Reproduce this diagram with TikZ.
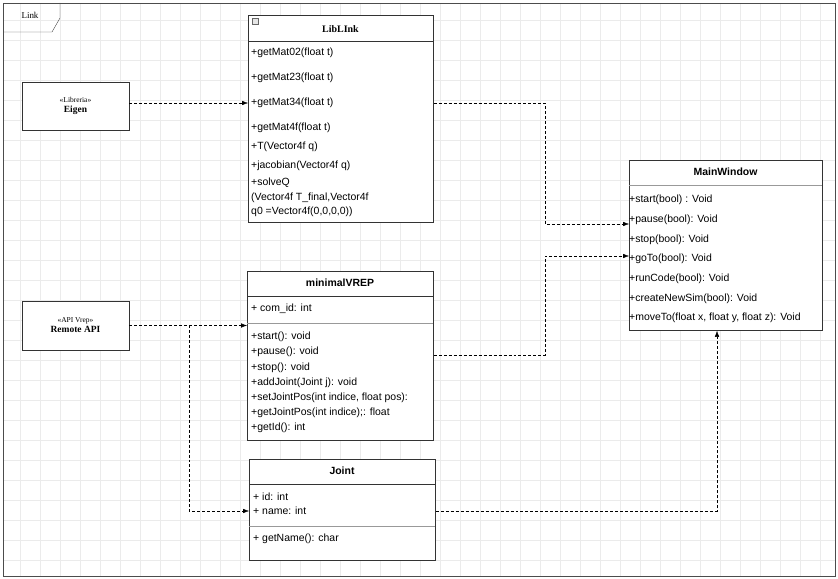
\documentclass[tikz,border=0pt]{standalone}
\usepackage{fontspec}
\setmainfont{Liberation Sans}
\newfontfamily\seriffont{Liberation Serif}
\usetikzlibrary{positioning,arrows.meta,backgrounds,calc}
\tikzset{
  cls/.style={rectangle, draw, thick, black!80, fill=white, anchor=north west, inner sep=0pt},
  lib/.style={rectangle, draw, thick, black!80, fill=white, align=center, font=\seriffont\fontsize{9.5}{10}\selectfont, text=black},
  row/.style={anchor=west, inner sep=1pt, font=\fontsize{10.5}{14.5}\selectfont},
  title/.style={font=\bfseries\fontsize{10.5}{12}\selectfont},
  dep/.style={draw, densely dashed, -{Latex[length=6pt]}}
}
\begin{document}
\begin{tikzpicture}[x=1bp, y=-1bp]
   \useasboundingbox (0,0) rectangle (838,579);
   % Grid %%%%%%%%%%%%%%%%%%%%%%%%%%%%%%%%%%%%%%%%%%%%%%%%%%%%%%%%%%
   \begin{scope}[on background layer]
      \draw[black!8, step=20bp] (3,3) grid (835,576);
   \end{scope}
   \draw[thick, black!70] (3,3) rectangle (835,576);
   \draw[black!70] (3,32) -- (52,32) -- (60,18) -- (60,3);
   \node[font=\seriffont\fontsize{9}{10}\selectfont] (frame) at (30,15) {Link};

   % Libraries %%%%%%%%%%%%%%%%%%%%%%%%%%%%%%%%%%%%%%%%%%%%%%%%%%%%%
   \node[lib, minimum width=107bp, minimum height=48bp] (eigen) at (75.5,106) {%
      {\fontsize{7.5}{9}\selectfont «Libreria»}\\\textbf{Eigen}};
   \node[lib, minimum width=107bp, minimum height=49bp] (remote) at (75.5,325.5) {%
      {\fontsize{7.5}{9}\selectfont «API Vrep»}\\\textbf{Remote API}};

   % LibLInk %%%%%%%%%%%%%%%%%%%%%%%%%%%%%%%%%%%%%%%%%%%%%%%%%%%%%%%
   \node[cls, minimum width=185bp, minimum height=207bp] (liblink) at (248,15) {};
   \draw[black!80] (248,41) -- (433,41);
   \node[title, font=\seriffont\bfseries\fontsize{10}{12}\selectfont] (liblinkT) at (340.5,29) {LibLInk};
   \node[draw, black!60, fill=black!10, minimum size=6bp, inner sep=0pt] (fold) at (255,21) {};
   \node[row] (m02) at (250,53) {+getMat02(float t)};
   \node[row] (m23) at (250,78) {+getMat23(float t)};
   \node[row] (m34) at (250,103) {+getMat34(float t)};
   \node[row] (m4f) at (250,128) {+getMat4f(float t)};
   \node[row] (mT) at (250,147) {+T(Vector4f q)};
   \node[row] (jac) at (250,166) {+jacobian(Vector4f q)};
   \node[row, align=left, anchor=north west] (solve) at (250,177) {+solveQ\\(Vector4f T\_final,Vector4f\\q0 =Vector4f(0,0,0,0))};

   % minimalVREP %%%%%%%%%%%%%%%%%%%%%%%%%%%%%%%%%%%%%%%%%%%%%%%%%%%
   \node[cls, minimum width=186bp, minimum height=169bp] (vrep) at (247,271) {};
   \draw[black!80] (247,296) -- (433,296);
   \draw[black!40] (247,323) -- (433,323);
   \node[title] (vrepT) at (340,283) {minimalVREP};
   \node[row] (comid) at (250,309) {+ com\_id: int};
   \foreach \t [count=\i from 0] in {+start(): void, +pause(): void, +stop(): void,
      +addJoint(Joint j): void, +setJointPos(int indice{,} float pos):,
      +getJointPos(int indice);: float, +getId(): int}
      \node[row] (v\i) at (250,{337+15.2*\i}) {\t};

   % Joint %%%%%%%%%%%%%%%%%%%%%%%%%%%%%%%%%%%%%%%%%%%%%%%%%%%%%%%%%
   \node[cls, minimum width=186bp, minimum height=101bp] (joint) at (249,459) {};
   \draw[black!80] (249,484) -- (435,484);
   \draw[black!40] (249,526) -- (435,526);
   \node[title] (jointT) at (342,471) {Joint};
   \node[row] (jid) at (252,497) {+ id: int};
   \node[row] (jname) at (252,511) {+ name: int};
   \node[row] (jget) at (252,539) {+ getName(): char};

   % MainWindow %%%%%%%%%%%%%%%%%%%%%%%%%%%%%%%%%%%%%%%%%%%%%%%%%%%%
   \node[cls, minimum width=193bp, minimum height=170bp] (mainw) at (629,160) {};
   \draw[black!40] (629,185) -- (822,185);
   \node[title] (mainT) at (725.5,172) {MainWindow};
   \foreach \t [count=\i from 0] in {+start(bool) : Void, +pause(bool): Void, +stop(bool): Void,
      +goTo(bool): Void, +runCode(bool): Void, +createNewSim(bool): Void,
      +moveTo(float x{,} float y{,} float z): Void}
      \node[row, inner sep=0pt] (w\i) at (629,{200+19.7*\i}) {\t};

   % Connectors %%%%%%%%%%%%%%%%%%%%%%%%%%%%%%%%%%%%%%%%%%%%%%%%%%%%
   \coordinate (cA) at (545,103);
   \coordinate (cB) at (545,355);
   \coordinate (cR) at (189,325);
   \path[dep] (eigen.east |- m34) -- (liblink.west |- m34);
   \path[dep] (liblink.east |- m34) -- (cA) |- (mainw.west |- 0,224);
   \path[dep] (vrep.east |- 0,355) -- (cB) |- (mainw.west |- 0,256);
   \path[dep] (remote.east) -- (vrep.west |- remote.east);
   \path[dep] (cR) |- (joint.west |- jname);
   \path[dep] (joint.east |- jname) -| (mainw.south -| 717,0);
\end{tikzpicture}
\end{document}
